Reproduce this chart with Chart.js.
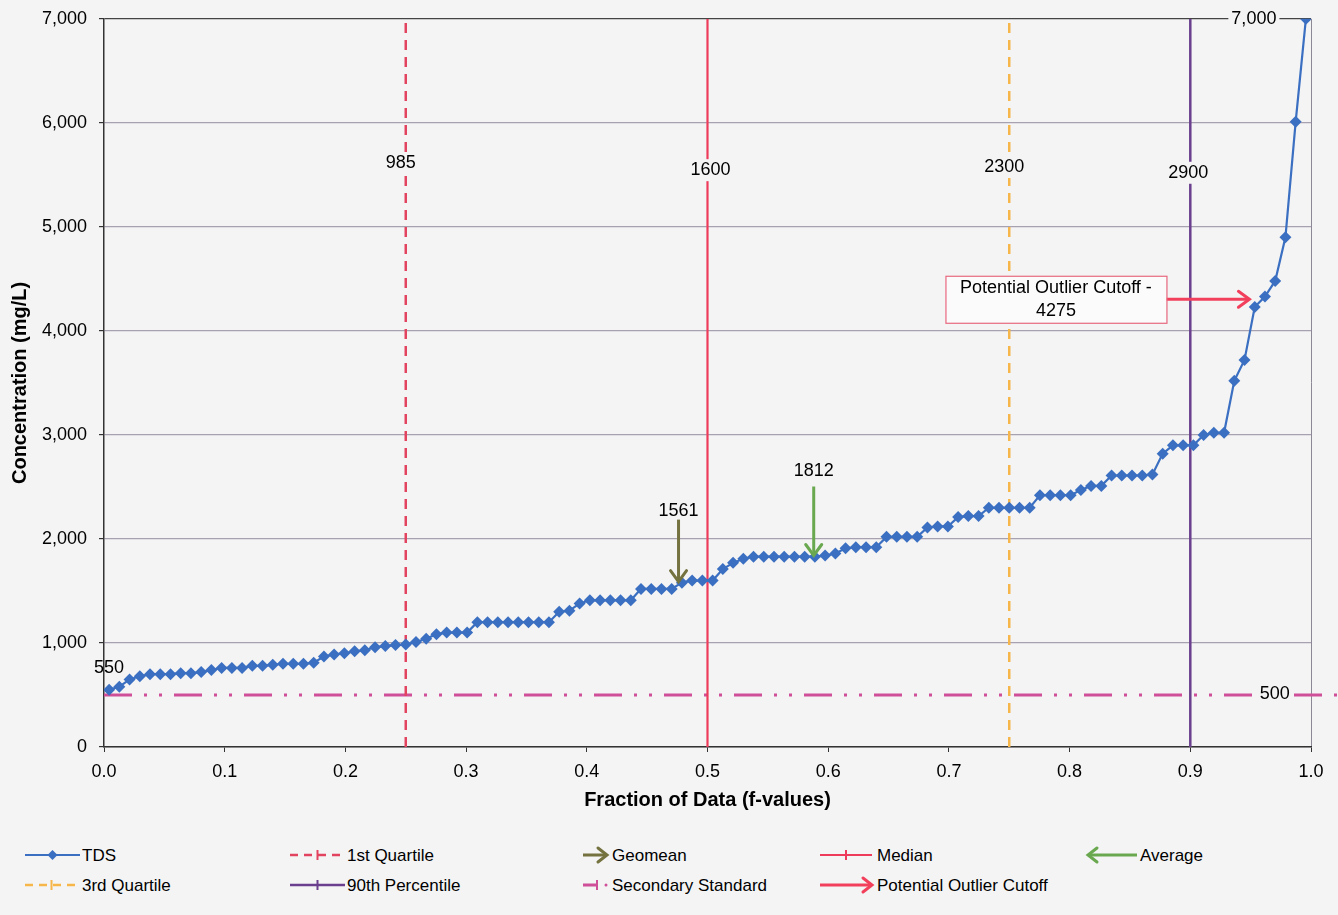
<!DOCTYPE html>
<html>
<head>
<meta charset="utf-8">
<script src="https://cdn.jsdelivr.net/npm/chart.js@4.4.1/dist/chart.umd.min.js"></script>
<style>
  html, body { margin: 0; padding: 0; background: #f4f4f4; overflow: hidden; }
  #wrap { position: absolute; left: 0; top: -4px; width: 1338px; height: 834px; }
  #legend { position: absolute; left: 0; top: 830px; }
</style>
</head>
<body>
<div id="wrap"><canvas id="chart"></canvas></div>
<svg id="legend" width="1338" height="85"></svg>
<script>
// Sorted TDS concentrations (mg/L)
const tds = [
  550, 580, 650, 680, 700, 700, 700, 710, 710, 720,
  740, 760, 760, 760, 780, 780, 790, 800, 800, 800,
  810, 870, 890, 900, 920, 930, 960, 970, 980, 985,
  1010, 1040, 1085, 1100, 1100, 1100, 1200, 1200, 1200, 1200,
  1200, 1200, 1200, 1200, 1300, 1310, 1380, 1410, 1410, 1410,
  1410, 1410, 1520, 1520, 1520, 1520, 1580, 1600, 1600, 1600,
  1710, 1770, 1810, 1830, 1830, 1830, 1830, 1830, 1830, 1830,
  1840, 1860, 1910, 1920, 1920, 1920, 2020, 2020, 2020, 2020,
  2110, 2120, 2120, 2210, 2220, 2220, 2300, 2300, 2300, 2300,
  2300, 2420, 2420, 2420, 2420, 2470, 2510, 2510, 2610, 2610,
  2610, 2610, 2620, 2820, 2900, 2900, 2900, 3000, 3020, 3020,
  3520, 3720, 4230, 4330, 4480, 4900, 6010, 7000
];

// Summary statistics shown as vertical reference lines
const statNames     = ['1st Quartile', 'Median', '3rd Quartile', '90th Percentile'];
const statFractions = [0.25, 0.5, 0.75, 0.9];
const statValues    = [985, 1600, 2300, 2900];

const geomean = 1561;
const geomeanFraction = 0.476;
const average = 1812;
const averageFraction = 0.588;
const outlierCutoff = 4275;
const outlierFraction = 0.949;
const secondaryStandard = 500;

const xTicks = [0, 0.1, 0.2, 0.3, 0.4, 0.5, 0.6, 0.7, 0.8, 0.9, 1.0];
const yTicks = [0, 1000, 2000, 3000, 4000, 5000, 6000, 7000];

// Hazen plotting position for each ranked sample
const n = tds.length;
const tdsPoints = tds.map((v, i) => ({ x: (i + 0.5) / n, y: v }));

const C = {
  tds: '#3b6fc1', q1: '#e2435f', median: '#ee3b5b', q3: '#f6b64a',
  p90: '#6a3f8e', sec: '#cf4f98', geo: '#74723f', avg: '#6aa84f', out: '#f2405c'
};
const statStyle = [
  { color: C.q1, dash: [10, 7], width: 2.5, dx: -5, labelY: 5610 },
  { color: C.median, dash: [], width: 2.2, dx: 3, labelY: 5545 },
  { color: C.q3, dash: [10, 7], width: 2.5, dx: -5, labelY: 5575 },
  { color: C.p90, dash: [], width: 2.5, dx: -2, labelY: 5520 }
];

const FONT = '"Liberation Sans", Arial, Helvetica, sans-serif';
Chart.defaults.font.family = FONT;
Chart.defaults.color = '#000';

const datasets = [{
  label: 'TDS', data: tdsPoints, order: 0,
  borderColor: C.tds, borderWidth: 2.2, backgroundColor: C.tds,
  pointStyle: 'rectRot', pointRadius: 6, pointBackgroundColor: C.tds,
  pointBorderColor: C.tds, pointBorderWidth: 0, tension: 0
}];
statNames.forEach((name, k) => {
  datasets.push({
    label: name, order: 1,
    data: [{ x: statFractions[k], y: 0 }, { x: statFractions[k], y: 7000 }],
    borderColor: statStyle[k].color, borderWidth: statStyle[k].width,
    borderDash: statStyle[k].dash, pointRadius: 0
  });
});
datasets.push({
  label: 'Secondary Standard', order: 1, clip: false,
  data: [{ x: 0, y: secondaryStandard }, { x: 1.022, y: secondaryStandard }],
  borderColor: C.sec, borderWidth: 3, borderDash: [28, 12, 3, 12, 3, 12], pointRadius: 0
});

function textWithBg(ctx, text, cx, cy, font, bg) {
  ctx.font = font;
  const w = ctx.measureText(text).width;
  if (bg) {
    ctx.fillStyle = bg;
    ctx.fillRect(cx - w / 2 - 3, cy - 11, w + 6, 22);
  }
  ctx.fillStyle = '#000';
  ctx.textAlign = 'center';
  ctx.textBaseline = 'middle';
  ctx.fillText(text, cx, cy);
}

function chevron(ctx, tx, ty, dir, color) {
  // open arrowhead pointing in direction dir: 'down' | 'right'
  ctx.save();
  ctx.strokeStyle = color; ctx.lineWidth = 3; ctx.lineCap = 'round'; ctx.lineJoin = 'miter';
  ctx.beginPath();
  if (dir === 'down') { ctx.moveTo(tx - 8, ty - 11); ctx.lineTo(tx, ty); ctx.lineTo(tx + 8, ty - 11); }
  if (dir === 'right') { ctx.moveTo(tx - 11, ty - 8); ctx.lineTo(tx, ty); ctx.lineTo(tx - 11, ty + 8); }
  ctx.stroke();
  ctx.restore();
}

const annotations = {
  id: 'annotations',
  afterDatasetsDraw(chart) {
    const { ctx, scales: { x, y } } = chart;
    const bg = '#f4f4f4';
    const f18 = '18px ' + FONT;
    ctx.save();

    // statistic labels on the vertical lines
    statValues.forEach((v, k) => {
      textWithBg(ctx, String(v), x.getPixelForValue(statFractions[k]) + statStyle[k].dx,
        y.getPixelForValue(statStyle[k].labelY), f18, bg);
    });

    // first and last sample labels
    const p0 = tdsPoints[0], pN = tdsPoints[n - 1];
    textWithBg(ctx, String(p0.y), x.getPixelForValue(p0.x), y.getPixelForValue(p0.y) - 22, f18, null);
    textWithBg(ctx, pN.y.toLocaleString('en-US'), x.getPixelForValue(pN.x) - 52, y.getPixelForValue(pN.y), f18, bg);

    // secondary standard label
    textWithBg(ctx, String(secondaryStandard), x.getPixelForValue(0.97), y.getPixelForValue(secondaryStandard) - 1, f18, bg);

    // geomean and average arrows
    [[geomean, geomeanFraction, C.geo, 62, 9], [average, averageFraction, C.avg, 69, 15]].forEach(([v, f, col, len, gap]) => {
      const tx = x.getPixelForValue(f), ty = y.getPixelForValue(v) - 3;
      ctx.save();
      ctx.strokeStyle = col; ctx.lineWidth = 3;
      ctx.beginPath(); ctx.moveTo(tx, ty - len); ctx.lineTo(tx, ty - 1); ctx.stroke();
      ctx.restore();
      chevron(ctx, tx, ty, 'down', col);
      textWithBg(ctx, String(v), tx, ty - len - gap, f18, null);
    });

    // potential outlier cutoff callout
    const ax = x.getPixelForValue(outlierFraction), ay = y.getPixelForValue(outlierCutoff) - 3;
    const boxR = ax - 83, boxW = 221, boxH = 47;
    ctx.save();
    ctx.strokeStyle = C.out; ctx.lineWidth = 3;
    ctx.beginPath(); ctx.moveTo(boxR, ay); ctx.lineTo(ax - 1, ay); ctx.stroke();
    ctx.restore();
    chevron(ctx, ax, ay, 'right', C.out);
    ctx.save();
    ctx.fillStyle = '#fbfbfb';
    ctx.fillRect(boxR - boxW, ay - boxH / 2, boxW, boxH);
    ctx.strokeStyle = '#e8687f'; ctx.lineWidth = 1.2;
    ctx.strokeRect(boxR - boxW + 0.5, ay - boxH / 2 + 0.5, boxW, boxH);
    ctx.restore();
    textWithBg(ctx, 'Potential Outlier Cutoff -', boxR - boxW / 2, ay - 11, f18, null);
    textWithBg(ctx, String(outlierCutoff), boxR - boxW / 2, ay + 12, f18, null);

    ctx.restore();
  }
};

new Chart(document.getElementById('chart'), {
  type: 'line',
  data: { datasets },
  plugins: [annotations],
  options: {
    responsive: true, maintainAspectRatio: false, animation: false,
    layout: { padding: { top: 14, right: 27, left: 0, bottom: 0 } },
    plugins: { legend: { display: false }, tooltip: { enabled: false } },
    scales: {
      x: {
        type: 'linear', min: 0, max: 1,
        afterBuildTicks: s => { s.ticks = xTicks.map(v => ({ value: v })); },
        ticks: { callback: v => Number(v).toFixed(1), font: { size: 18 }, color: '#000', padding: 9, maxRotation: 0, autoSkip: false },
        grid: {
          color: c => (c.tick && c.tick.value >= 0.999) ? '#8d8896' : 'rgba(0,0,0,0)',
          tickColor: '#333', tickLength: 5, lineWidth: 1
        },
        border: { display: true, color: '#333', width: 1.5 },
        title: { display: true, text: 'Fraction of Data (f-values)', font: { size: 20, weight: 'bold' }, color: '#000', padding: { top: 4, bottom: 18 } },
        afterFit: s => { s.height = 83; }
      },
      y: {
        type: 'linear', min: 0, max: 7000,
        afterBuildTicks: s => { s.ticks = yTicks.map(v => ({ value: v })); },
        ticks: { callback: v => Number(v).toLocaleString('en-US'), font: { size: 18 }, color: '#000', padding: 12 },
        grid: {
          color: c => (c.tick && c.tick.value === 7000) ? '#444' : '#a7a1b0',
          tickColor: '#333', tickLength: 5, lineWidth: 1.2
        },
        border: { display: true, color: '#333', width: 1.5 },
        title: { display: true, text: 'Concentration (mg/L)', font: { size: 20, weight: 'bold' }, color: '#000', padding: { top: 8, bottom: 0 } },
        afterFit: s => { s.width = 104; }
      }
    }
  }
});

// Legend below the plot
const legendItems = [
  { kind: 'tds',    x: 25,   w: 55, row: 0, text: 'TDS',                      tx: 82 },
  { kind: 'q1',     x: 290,  w: 55, row: 0, text: '1st Quartile',             tx: 347 },
  { kind: 'geo',    x: 583,  w: 24, row: 0, text: 'Geomean',                  tx: 612 },
  { kind: 'median', x: 820,  w: 52, row: 0, text: 'Median',                   tx: 877 },
  { kind: 'avg',    x: 1088, w: 49, row: 0, text: 'Average',                  tx: 1140 },
  { kind: 'q3',     x: 25,   w: 53, row: 1, text: '3rd Quartile',             tx: 82 },
  { kind: 'p90',    x: 290,  w: 55, row: 1, text: '90th Percentile',          tx: 347 },
  { kind: 'sec',    x: 583,  w: 17, row: 1, text: 'Secondary Standard',       tx: 612 },
  { kind: 'out',    x: 820,  w: 52, row: 1, text: 'Potential Outlier Cutoff', tx: 877 }
];
const svg = document.getElementById('legend');
const rowY = [25, 55];
let m = '';
const line = (x1, x2, y, col, w, dash) =>
  `<line x1="${x1}" y1="${y}" x2="${x2}" y2="${y}" stroke="${col}" stroke-width="${w}"${dash ? ` stroke-dasharray="${dash}"` : ''}/>`;
const plus = (cx, y, col) => `<line x1="${cx}" y1="${y - 5}" x2="${cx}" y2="${y + 5}" stroke="${col}" stroke-width="2"/>`;
const head = (tx, y, dir, col) => dir === 'right'
  ? `<polyline points="${tx - 9},${y - 7} ${tx},${y} ${tx - 9},${y + 7}" fill="none" stroke="${col}" stroke-width="3" stroke-linecap="round"/>`
  : `<polyline points="${tx + 9},${y - 7} ${tx},${y} ${tx + 9},${y + 7}" fill="none" stroke="${col}" stroke-width="3" stroke-linecap="round"/>`;
legendItems.forEach(it => {
  const y = rowY[it.row], x1 = it.x, x2 = it.x + it.w, cx = (x1 + x2) / 2;
  switch (it.kind) {
    case 'tds':
      m += line(x1, x2, y, C.tds, 2);
      m += `<path d="M${cx - 5},${y} L${cx},${y - 5} L${cx + 5},${y} L${cx},${y + 5} Z" fill="${C.tds}"/>`;
      break;
    case 'q1': m += line(x1, x2, y, C.q1, 2.5, '8,6') + plus(cx, y, C.q1); break;
    case 'q3': m += line(x1, x2, y, C.q3, 2.5, '8,6') + plus(cx, y, C.q3); break;
    case 'median': m += line(x1, x2, y, C.median, 2.2) + plus(cx, y, C.median); break;
    case 'p90': m += line(x1, x2, y, C.p90, 2.5) + plus(cx, y, C.p90); break;
    case 'geo': m += line(x1, x2 - 2, y, C.geo, 3) + head(x2, y, 'right', C.geo); break;
    case 'out': m += line(x1, x2 - 2, y, C.out, 3) + head(x2, y, 'right', C.out); break;
    case 'avg': m += line(x1 + 2, x2, y, C.avg, 3) + head(x1, y, 'left', C.avg); break;
    case 'sec':
      m += line(x1, x2 - 2, y, C.sec, 3) + plus(x2 - 3, y, C.sec);
      m += `<circle cx="${x2 + 6}" cy="${y}" r="1.5" fill="${C.sec}"/>`;
      break;
  }
  m += `<text x="${it.tx}" y="${y}" font-family='${FONT}' font-size="17" fill="#000" dominant-baseline="central">${it.text}</text>`;
});
svg.innerHTML = m;
</script>
</body>
</html>
